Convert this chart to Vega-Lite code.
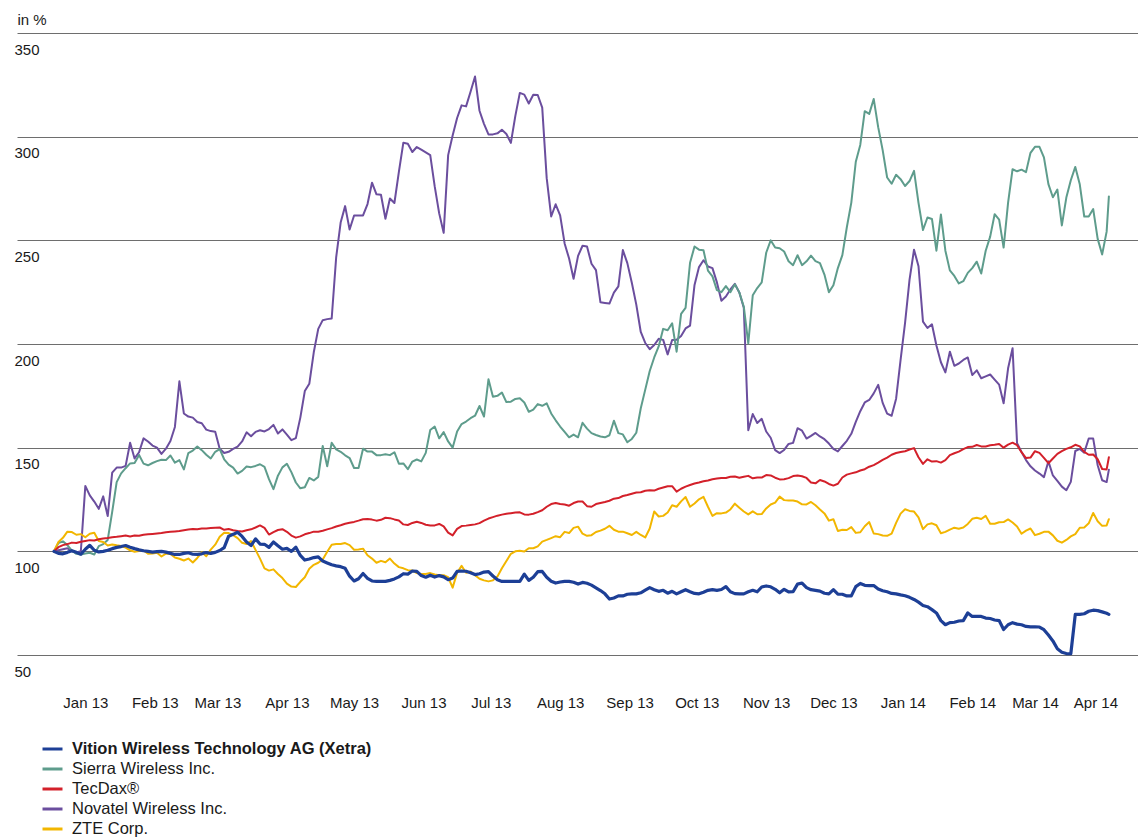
{
"$schema": "https://vega.github.io/schema/vega-lite/v6.json",
"width": 1121,
"height": 622,
"autosize": {"type": "none"},
"padding": {"left": 17, "top": 33, "right": 0, "bottom": 185},
"background": "white",
"config": {"view": {"stroke": null}, "font": "Liberation Sans"},
"data": {"values": [
{"d":"2013-01-01","V":100,"S":100,"T":100,"N":100,"Z":100},
{"d":"2013-01-03","V":99,"S":104,"T":102,"N":100.5,"Z":104.5},
{"d":"2013-01-05","V":98.8,"S":104.8,"T":103,"N":101,"Z":106.5},
{"d":"2013-01-07","V":99.5,"S":103,"T":103.5,"N":101.5,"Z":109.5},
{"d":"2013-01-09","V":100.3,"S":100.3,"T":104.2,"N":100,"Z":109.3},
{"d":"2013-01-11","V":99.5,"S":98.8,"T":104,"N":99.5,"Z":108},
{"d":"2013-01-13","V":98.6,"S":98.5,"T":104.6,"N":100,"Z":108.3},
{"d":"2013-01-15","V":101,"S":99,"T":105,"N":131.5,"Z":106.8},
{"d":"2013-01-17","V":102.9,"S":99.3,"T":105.4,"N":127,"Z":108.5},
{"d":"2013-01-19","V":100.5,"S":98.5,"T":105.2,"N":124,"Z":109},
{"d":"2013-01-21","V":99.7,"S":102.5,"T":105.8,"N":120.5,"Z":105},
{"d":"2013-01-23","V":100,"S":103.5,"T":106.2,"N":126.5,"Z":104.5},
{"d":"2013-01-25","V":100.5,"S":105.5,"T":106.4,"N":117,"Z":102.8},
{"d":"2013-01-27","V":101.3,"S":119,"T":106.8,"N":138,"Z":103.3},
{"d":"2013-01-29","V":101.9,"S":133.4,"T":107,"N":140.4,"Z":102.9},
{"d":"2013-01-31","V":102.3,"S":137.6,"T":107.3,"N":140.4,"Z":102.6},
{"d":"2013-02-02","V":102.8,"S":140.1,"T":107.6,"N":141.2,"Z":101.8},
{"d":"2013-02-04","V":102,"S":142.4,"T":107.2,"N":152.4,"Z":100.5},
{"d":"2013-02-06","V":101.3,"S":142.6,"T":107.6,"N":144.8,"Z":99.8},
{"d":"2013-02-08","V":100.7,"S":146.5,"T":107.5,"N":147.8,"Z":100.1},
{"d":"2013-02-10","V":100.3,"S":142.3,"T":108,"N":154.5,"Z":100.4},
{"d":"2013-02-12","V":100,"S":141.5,"T":108.2,"N":153,"Z":98.8},
{"d":"2013-02-14","V":99.6,"S":142.6,"T":108.4,"N":151,"Z":98.9},
{"d":"2013-02-16","V":99.9,"S":143.5,"T":108.6,"N":150,"Z":99.3},
{"d":"2013-02-18","V":100,"S":144.2,"T":108.8,"N":147,"Z":97.5},
{"d":"2013-02-20","V":99.6,"S":144,"T":109.2,"N":149.5,"Z":98.9},
{"d":"2013-02-22","V":99,"S":146.2,"T":109.4,"N":153.2,"Z":98.7},
{"d":"2013-02-24","V":98.5,"S":142.8,"T":109.6,"N":160,"Z":97},
{"d":"2013-02-26","V":98.5,"S":144,"T":109.8,"N":182,"Z":96.4},
{"d":"2013-02-28","V":99,"S":139.5,"T":110.2,"N":166.5,"Z":95.6},
{"d":"2013-03-02","V":99.3,"S":147.4,"T":110.5,"N":165,"Z":96.5},
{"d":"2013-03-04","V":98.6,"S":148.6,"T":110.8,"N":164.5,"Z":94.6},
{"d":"2013-03-06","V":98.5,"S":150.6,"T":110.6,"N":162.4,"Z":96.8},
{"d":"2013-03-08","V":98.8,"S":148.8,"T":111,"N":161.8,"Z":99.5},
{"d":"2013-03-10","V":99.4,"S":146.6,"T":111,"N":158.7,"Z":97.6},
{"d":"2013-03-12","V":99,"S":144.8,"T":111.2,"N":158,"Z":100.8},
{"d":"2013-03-14","V":99.5,"S":148,"T":111.4,"N":157.7,"Z":103.2},
{"d":"2013-03-16","V":100.4,"S":149.3,"T":111.5,"N":149.5,"Z":107},
{"d":"2013-03-18","V":101.8,"S":144.4,"T":110.4,"N":147.4,"Z":109},
{"d":"2013-03-20","V":107.3,"S":141.8,"T":110.8,"N":148,"Z":108.8},
{"d":"2013-03-22","V":108.2,"S":140.4,"T":110.2,"N":149.4,"Z":107.8},
{"d":"2013-03-24","V":109.2,"S":137.5,"T":109.8,"N":150.5,"Z":106.4},
{"d":"2013-03-26","V":107.2,"S":138.8,"T":109.6,"N":153,"Z":104.1},
{"d":"2013-03-28","V":104.5,"S":140.9,"T":110.2,"N":157.4,"Z":103.5},
{"d":"2013-03-30","V":102.8,"S":140.6,"T":110.6,"N":155.5,"Z":104.9},
{"d":"2013-04-01","V":106,"S":141.2,"T":111.5,"N":157.6,"Z":100.7},
{"d":"2013-04-03","V":103.5,"S":142,"T":112.5,"N":158.4,"Z":96.5},
{"d":"2013-04-05","V":103.4,"S":140.7,"T":111.3,"N":157.8,"Z":91.8},
{"d":"2013-04-07","V":101.9,"S":134.8,"T":108.1,"N":159,"Z":90.7},
{"d":"2013-04-09","V":104.5,"S":130,"T":109.3,"N":161,"Z":91.3},
{"d":"2013-04-11","V":102.7,"S":136.5,"T":110.3,"N":156.8,"Z":89.1},
{"d":"2013-04-13","V":101,"S":140.5,"T":110.7,"N":158.8,"Z":87.1},
{"d":"2013-04-15","V":101.4,"S":142.2,"T":109.4,"N":156.3,"Z":84.4},
{"d":"2013-04-17","V":100,"S":138.2,"T":107.6,"N":153.6,"Z":83},
{"d":"2013-04-19","V":102,"S":133.2,"T":106.6,"N":154.6,"Z":82.8},
{"d":"2013-04-21","V":98,"S":130.4,"T":107.2,"N":164.5,"Z":85.3},
{"d":"2013-04-23","V":95.8,"S":130.9,"T":108.2,"N":177.3,"Z":87.5},
{"d":"2013-04-25","V":96.3,"S":135.4,"T":108.8,"N":180.8,"Z":91.6},
{"d":"2013-04-27","V":97,"S":134.2,"T":109.5,"N":196,"Z":93.5},
{"d":"2013-04-29","V":97.3,"S":135.9,"T":109.4,"N":207.3,"Z":94.5},
{"d":"2013-05-01","V":95.3,"S":150.8,"T":109.9,"N":211.5,"Z":96.1},
{"d":"2013-05-03","V":94.4,"S":141,"T":110.6,"N":212,"Z":99.8},
{"d":"2013-05-05","V":93.5,"S":152.4,"T":111.2,"N":212.3,"Z":103.2},
{"d":"2013-05-07","V":93,"S":149.2,"T":112,"N":241.8,"Z":103.5},
{"d":"2013-05-09","V":92.6,"S":148,"T":112.6,"N":258.6,"Z":103.5},
{"d":"2013-05-11","V":91.8,"S":146.3,"T":113.3,"N":266.5,"Z":104},
{"d":"2013-05-13","V":88,"S":145,"T":113.8,"N":255.2,"Z":103},
{"d":"2013-05-15","V":85.7,"S":140.2,"T":114.2,"N":262,"Z":100.8},
{"d":"2013-05-17","V":86.8,"S":140.2,"T":114.8,"N":262,"Z":100.9},
{"d":"2013-05-19","V":89.3,"S":149.5,"T":115.5,"N":262,"Z":101.3},
{"d":"2013-05-21","V":87,"S":148.1,"T":115.6,"N":267.5,"Z":98.1},
{"d":"2013-05-23","V":85.7,"S":148.1,"T":115.3,"N":277.8,"Z":96.5},
{"d":"2013-05-25","V":85.5,"S":146.4,"T":114.8,"N":272.2,"Z":94.5},
{"d":"2013-05-27","V":85.5,"S":146.4,"T":115.2,"N":272,"Z":95.4},
{"d":"2013-05-29","V":85.5,"S":146.8,"T":116.2,"N":260.4,"Z":94.7},
{"d":"2013-05-31","V":86,"S":146.4,"T":116,"N":270.2,"Z":96.5},
{"d":"2013-06-02","V":86.7,"S":147.8,"T":115.4,"N":268,"Z":94.1},
{"d":"2013-06-04","V":87.7,"S":142.3,"T":114.9,"N":283,"Z":92.4},
{"d":"2013-06-06","V":89.2,"S":142.4,"T":113,"N":297.1,"Z":91.8},
{"d":"2013-06-08","V":89,"S":139.6,"T":112.7,"N":296.6,"Z":90.9},
{"d":"2013-06-10","V":90.5,"S":143.3,"T":113.7,"N":292.6,"Z":90.8},
{"d":"2013-06-12","V":90.3,"S":144.3,"T":114.3,"N":295,"Z":89.5},
{"d":"2013-06-14","V":88.3,"S":143.4,"T":113.7,"N":293.7,"Z":89.1},
{"d":"2013-06-16","V":87.5,"S":147.5,"T":112.8,"N":292.4,"Z":89.1},
{"d":"2013-06-18","V":88.5,"S":158.5,"T":112.5,"N":291.1,"Z":89.5},
{"d":"2013-06-20","V":87.6,"S":160.2,"T":112.5,"N":276,"Z":88.8},
{"d":"2013-06-22","V":88.3,"S":154.5,"T":113.2,"N":263,"Z":88.5},
{"d":"2013-06-24","V":87.7,"S":157.5,"T":112,"N":253.6,"Z":88.5},
{"d":"2013-06-26","V":86.3,"S":153,"T":109,"N":291.1,"Z":87.5},
{"d":"2013-06-28","V":87.1,"S":150,"T":107.7,"N":300.6,"Z":82.5},
{"d":"2013-06-30","V":90.3,"S":157.8,"T":110.8,"N":309,"Z":89.7},
{"d":"2013-07-02","V":90.5,"S":161.4,"T":112.2,"N":315.1,"Z":93},
{"d":"2013-07-04","V":90.4,"S":162.6,"T":112.4,"N":314.6,"Z":89.7},
{"d":"2013-07-06","V":89.7,"S":164.2,"T":112.7,"N":321.7,"Z":90.3},
{"d":"2013-07-08","V":88.8,"S":165.4,"T":113,"N":329,"Z":88.5},
{"d":"2013-07-10","V":89.2,"S":170.1,"T":113.6,"N":312.5,"Z":86.8},
{"d":"2013-07-12","V":90,"S":165,"T":114.8,"N":306.2,"Z":86},
{"d":"2013-07-14","V":90.2,"S":183,"T":115.8,"N":301.1,"Z":85.5},
{"d":"2013-07-16","V":88.1,"S":174.6,"T":116.5,"N":301.1,"Z":86},
{"d":"2013-07-18","V":86.3,"S":175,"T":117.2,"N":301.6,"Z":87.9},
{"d":"2013-07-20","V":85.5,"S":176.6,"T":117.7,"N":303.3,"Z":91.8},
{"d":"2013-07-22","V":85.5,"S":172,"T":118.1,"N":301.3,"Z":95.3},
{"d":"2013-07-24","V":85.5,"S":172.2,"T":118.4,"N":297,"Z":98.8},
{"d":"2013-07-26","V":85.5,"S":173.5,"T":118.7,"N":310,"Z":100},
{"d":"2013-07-28","V":85.5,"S":173.8,"T":118.8,"N":321.1,"Z":100.3},
{"d":"2013-07-30","V":89,"S":171.8,"T":117.8,"N":320.3,"Z":99.9},
{"d":"2013-08-01","V":86,"S":167.3,"T":117.7,"N":316,"Z":101.5},
{"d":"2013-08-03","V":87.5,"S":168.4,"T":118.1,"N":320.2,"Z":101.5},
{"d":"2013-08-05","V":90.2,"S":171,"T":118.9,"N":320.1,"Z":102.4},
{"d":"2013-08-07","V":90.3,"S":170.2,"T":119.8,"N":314,"Z":104.7},
{"d":"2013-08-09","V":87.5,"S":171.4,"T":121.5,"N":280,"Z":105.5},
{"d":"2013-08-11","V":85.6,"S":166.5,"T":122.8,"N":261.5,"Z":106.4},
{"d":"2013-08-13","V":84.7,"S":163.2,"T":123.3,"N":267.4,"Z":107.3},
{"d":"2013-08-15","V":85.2,"S":160.2,"T":122.8,"N":262,"Z":106.8},
{"d":"2013-08-17","V":85.5,"S":157.6,"T":122.6,"N":248.5,"Z":109.4},
{"d":"2013-08-19","V":85.5,"S":155,"T":122,"N":241.2,"Z":108.8},
{"d":"2013-08-21","V":85.1,"S":156.3,"T":123.3,"N":231.5,"Z":111.3},
{"d":"2013-08-23","V":84.2,"S":155,"T":124,"N":242.5,"Z":111.9},
{"d":"2013-08-25","V":85,"S":162,"T":124,"N":247.4,"Z":108.5},
{"d":"2013-08-27","V":84.6,"S":159.2,"T":121.8,"N":247,"Z":107.5},
{"d":"2013-08-29","V":83.7,"S":157,"T":121.5,"N":238.7,"Z":107.8},
{"d":"2013-08-31","V":82.4,"S":156.1,"T":122.8,"N":235.6,"Z":109.3},
{"d":"2013-09-02","V":81.1,"S":155.4,"T":123.3,"N":220.1,"Z":110},
{"d":"2013-09-04","V":79.5,"S":155,"T":123.8,"N":219.8,"Z":110.9},
{"d":"2013-09-06","V":77,"S":156,"T":124.4,"N":219.5,"Z":112.3},
{"d":"2013-09-08","V":77.5,"S":163,"T":125.4,"N":224.8,"Z":110.4},
{"d":"2013-09-10","V":78.5,"S":157,"T":125.7,"N":227.8,"Z":109.5},
{"d":"2013-09-12","V":78.5,"S":156.4,"T":126.7,"N":245.3,"Z":109.5},
{"d":"2013-09-14","V":79.3,"S":152.6,"T":127.2,"N":239,"Z":108.7},
{"d":"2013-09-16","V":79.5,"S":154.2,"T":127.8,"N":229.5,"Z":107.9},
{"d":"2013-09-18","V":79.5,"S":157.2,"T":128.4,"N":219,"Z":109.4},
{"d":"2013-09-20","V":80,"S":169,"T":128.5,"N":205.8,"Z":107.9},
{"d":"2013-09-22","V":81.3,"S":178,"T":129.2,"N":200.5,"Z":106.7},
{"d":"2013-09-24","V":82.5,"S":187,"T":129.5,"N":197.5,"Z":111},
{"d":"2013-09-26","V":81.5,"S":193.5,"T":129.3,"N":199.5,"Z":119.2},
{"d":"2013-09-28","V":80.7,"S":198.8,"T":130.2,"N":202.5,"Z":116.8},
{"d":"2013-09-30","V":81.2,"S":207.3,"T":130.8,"N":202,"Z":117.1},
{"d":"2013-10-02","V":79.8,"S":206.6,"T":131.4,"N":195,"Z":118.7},
{"d":"2013-10-04","V":80.7,"S":210,"T":131.4,"N":201.9,"Z":122.2},
{"d":"2013-10-06","V":79.5,"S":196.3,"T":128.8,"N":202,"Z":121.5},
{"d":"2013-10-08","V":80.5,"S":214.5,"T":130.2,"N":203.9,"Z":124.1},
{"d":"2013-10-10","V":81.5,"S":217.4,"T":131.2,"N":207.5,"Z":126.2},
{"d":"2013-10-12","V":80.5,"S":239.2,"T":132,"N":208.9,"Z":121.5},
{"d":"2013-10-14","V":79.7,"S":247,"T":132.7,"N":228.5,"Z":123.1},
{"d":"2013-10-16","V":79.5,"S":245.5,"T":133.2,"N":237.1,"Z":125.1},
{"d":"2013-10-18","V":80.3,"S":245.2,"T":133.8,"N":240.4,"Z":126.3},
{"d":"2013-10-20","V":81.2,"S":235.4,"T":134.2,"N":237.4,"Z":121.5},
{"d":"2013-10-22","V":81.5,"S":232.6,"T":134.8,"N":236.6,"Z":117.1},
{"d":"2013-10-24","V":81.2,"S":226,"T":135.1,"N":229.7,"Z":118.4},
{"d":"2013-10-26","V":81.6,"S":225,"T":135.4,"N":220.9,"Z":118.3},
{"d":"2013-10-28","V":83,"S":227.9,"T":135.4,"N":222.9,"Z":118.7},
{"d":"2013-10-30","V":80.5,"S":225,"T":136,"N":226.3,"Z":120.2},
{"d":"2013-11-01","V":79.6,"S":228.8,"T":136.1,"N":229,"Z":123},
{"d":"2013-11-03","V":79.5,"S":224.9,"T":135.5,"N":224.8,"Z":121},
{"d":"2013-11-05","V":79.5,"S":218,"T":136,"N":217.5,"Z":119.2},
{"d":"2013-11-07","V":80.5,"S":200.3,"T":136.4,"N":158.4,"Z":117.8},
{"d":"2013-11-09","V":81.2,"S":223.5,"T":135.2,"N":166.2,"Z":119.3},
{"d":"2013-11-11","V":80.5,"S":227,"T":135.6,"N":161.9,"Z":117.9},
{"d":"2013-11-13","V":82.8,"S":229.7,"T":135.6,"N":163.9,"Z":118},
{"d":"2013-11-15","V":83.3,"S":244,"T":136.8,"N":157.8,"Z":120.7},
{"d":"2013-11-17","V":82.9,"S":250,"T":136.6,"N":154.8,"Z":122.6},
{"d":"2013-11-19","V":81.7,"S":246.5,"T":135.5,"N":148.8,"Z":123.5},
{"d":"2013-11-21","V":80,"S":246.2,"T":134.7,"N":147.4,"Z":126.4},
{"d":"2013-11-23","V":81.7,"S":244.6,"T":134.8,"N":148.9,"Z":124.7},
{"d":"2013-11-25","V":80.4,"S":239.9,"T":135.3,"N":151.8,"Z":124.5},
{"d":"2013-11-27","V":80.5,"S":238,"T":136.3,"N":152.3,"Z":124.5},
{"d":"2013-11-29","V":84.2,"S":242.8,"T":136.6,"N":159.4,"Z":124},
{"d":"2013-12-01","V":84.7,"S":238,"T":136.2,"N":158.2,"Z":122.7},
{"d":"2013-12-03","V":82.5,"S":239.9,"T":135.4,"N":154.4,"Z":122.6},
{"d":"2013-12-05","V":81.5,"S":242.6,"T":133.2,"N":155.7,"Z":123.8},
{"d":"2013-12-07","V":81.2,"S":240,"T":132.8,"N":157.1,"Z":122.2},
{"d":"2013-12-09","V":80.8,"S":239,"T":134.4,"N":155.4,"Z":120.2},
{"d":"2013-12-11","V":79.8,"S":233.5,"T":133.7,"N":154.1,"Z":118.3},
{"d":"2013-12-13","V":79.5,"S":225,"T":132.5,"N":152,"Z":114.8},
{"d":"2013-12-15","V":81.5,"S":228.3,"T":131.7,"N":149.4,"Z":115.5},
{"d":"2013-12-17","V":79.4,"S":236.6,"T":132.6,"N":148.2,"Z":109.8},
{"d":"2013-12-19","V":79.3,"S":242.9,"T":135.6,"N":150.8,"Z":110.4},
{"d":"2013-12-21","V":78.5,"S":256.3,"T":137,"N":153.3,"Z":110.3},
{"d":"2013-12-23","V":78.5,"S":268.2,"T":137.6,"N":156.7,"Z":111.7},
{"d":"2013-12-25","V":83,"S":287.9,"T":138.1,"N":162.4,"Z":108.9},
{"d":"2013-12-27","V":84.5,"S":296,"T":139,"N":167.6,"Z":109.2},
{"d":"2013-12-29","V":83.6,"S":312.3,"T":139.6,"N":171.8,"Z":112.1},
{"d":"2013-12-31","V":83.5,"S":311,"T":140.8,"N":173,"Z":114.1},
{"d":"2014-01-02","V":83.5,"S":318.2,"T":141.6,"N":176.2,"Z":108.6},
{"d":"2014-01-04","V":81.8,"S":304.6,"T":142.8,"N":180.3,"Z":108.3},
{"d":"2014-01-06","V":81,"S":293.5,"T":144.1,"N":171.6,"Z":107.6},
{"d":"2014-01-08","V":80.5,"S":280.3,"T":145.2,"N":166.4,"Z":107.5},
{"d":"2014-01-10","V":79.7,"S":277.3,"T":146.6,"N":165.4,"Z":108.5},
{"d":"2014-01-12","V":79.5,"S":281.6,"T":147.4,"N":173.6,"Z":113.7},
{"d":"2014-01-14","V":79,"S":279.5,"T":147.9,"N":192.3,"Z":118.2},
{"d":"2014-01-16","V":78.6,"S":276.2,"T":148.3,"N":210.2,"Z":120.3},
{"d":"2014-01-18","V":77.8,"S":278.6,"T":149.1,"N":231,"Z":119.5},
{"d":"2014-01-20","V":76.8,"S":283.5,"T":149.8,"N":245.5,"Z":119.2},
{"d":"2014-01-22","V":75.5,"S":268.1,"T":145.4,"N":237.5,"Z":116.4},
{"d":"2014-01-24","V":73.9,"S":255,"T":142.2,"N":210.8,"Z":110.7},
{"d":"2014-01-26","V":73.3,"S":261,"T":144.4,"N":207.7,"Z":113},
{"d":"2014-01-28","V":71.9,"S":260.3,"T":143.3,"N":209.5,"Z":113.5},
{"d":"2014-01-30","V":70.3,"S":245,"T":143.5,"N":199.3,"Z":112.6},
{"d":"2014-02-01","V":66.6,"S":262.5,"T":142.8,"N":191.2,"Z":108.7},
{"d":"2014-02-03","V":64.6,"S":245,"T":144,"N":186.3,"Z":109.4},
{"d":"2014-02-05","V":65.6,"S":235.5,"T":146.4,"N":196.3,"Z":110.5},
{"d":"2014-02-07","V":65.8,"S":232.8,"T":147.3,"N":189.5,"Z":111.4},
{"d":"2014-02-09","V":66.4,"S":229.2,"T":148.1,"N":190.6,"Z":110.9},
{"d":"2014-02-11","V":66.6,"S":230.3,"T":149.3,"N":192.3,"Z":111.5},
{"d":"2014-02-13","V":70.3,"S":234.3,"T":150.3,"N":193.5,"Z":113.2},
{"d":"2014-02-15","V":68.6,"S":236.6,"T":150.4,"N":185,"Z":115.7},
{"d":"2014-02-17","V":68.6,"S":239.7,"T":151.3,"N":187.3,"Z":116.2},
{"d":"2014-02-19","V":68.6,"S":234,"T":150.6,"N":183.5,"Z":115.6},
{"d":"2014-02-21","V":67.8,"S":245,"T":150.6,"N":184.4,"Z":117.1},
{"d":"2014-02-23","V":67.6,"S":251.8,"T":151.2,"N":185.3,"Z":113.3},
{"d":"2014-02-25","V":66.9,"S":262.6,"T":151.4,"N":182.8,"Z":113.3},
{"d":"2014-02-27","V":66.6,"S":260,"T":151.8,"N":180.4,"Z":114},
{"d":"2014-03-01","V":62.3,"S":246.5,"T":150,"N":171.4,"Z":114.1},
{"d":"2014-03-03","V":64.6,"S":268.2,"T":151.5,"N":188.3,"Z":115.4},
{"d":"2014-03-05","V":65.6,"S":284.3,"T":152.4,"N":198,"Z":113.9},
{"d":"2014-03-07","V":64.9,"S":283.3,"T":151.2,"N":152.2,"Z":112},
{"d":"2014-03-09","V":64.6,"S":284.1,"T":147.8,"N":147.9,"Z":108.5},
{"d":"2014-03-11","V":63.8,"S":282.9,"T":145,"N":144,"Z":110},
{"d":"2014-03-13","V":63.6,"S":292.2,"T":145.2,"N":141,"Z":111},
{"d":"2014-03-15","V":63.6,"S":295.1,"T":148.3,"N":139,"Z":107.8},
{"d":"2014-03-17","V":63.5,"S":295.1,"T":147.5,"N":137.5,"Z":108.5},
{"d":"2014-03-19","V":62.2,"S":290,"T":145.1,"N":135.8,"Z":109.4},
{"d":"2014-03-21","V":59.6,"S":277.1,"T":142.5,"N":143.4,"Z":109.5},
{"d":"2014-03-23","V":56.8,"S":270.8,"T":144.8,"N":136.6,"Z":107.7},
{"d":"2014-03-25","V":53,"S":274.5,"T":147,"N":134,"Z":105.1},
{"d":"2014-03-27","V":51.3,"S":257.2,"T":148.3,"N":131.2,"Z":104.2},
{"d":"2014-03-29","V":50.7,"S":270.6,"T":149.4,"N":129.5,"Z":105.5},
{"d":"2014-03-31","V":50.6,"S":279,"T":150.2,"N":133.5,"Z":107.2},
{"d":"2014-04-02","V":69.6,"S":285.4,"T":151.4,"N":148.4,"Z":108.3},
{"d":"2014-04-04","V":69.6,"S":277,"T":150.6,"N":149.4,"Z":111.4},
{"d":"2014-04-06","V":69.9,"S":261.5,"T":148,"N":147.6,"Z":111.5},
{"d":"2014-04-08","V":71.1,"S":261.5,"T":146.6,"N":154.4,"Z":113.5},
{"d":"2014-04-10","V":71.6,"S":265.1,"T":146.7,"N":154.4,"Z":118.5},
{"d":"2014-04-12","V":71.4,"S":250.7,"T":144.4,"N":141.5,"Z":114.5},
{"d":"2014-04-14","V":70.8,"S":243.2,"T":139.7,"N":134.3,"Z":112.3},
{"d":"2014-04-16","V":70.1,"S":254.2,"T":139.5,"N":133.4,"Z":112.5},
{"d":"2014-04-17","V":69.6,"S":271.2,"T":145.4,"N":139.4,"Z":115.5}
]},
"transform": [{"fold": ["N", "S", "Z", "T", "V"], "as": ["series", "value"]}],
"mark": {"type": "line", "strokeJoin": "round", "strokeCap": "round"},
"encoding": {
  "x": {
    "field": "d", "type": "temporal",
    "scale": {"type": "utc", "domain": [{"year": 2012, "month": 12, "date": 15, "hours": 12, "utc": true}, {"year": 2014, "month": 4, "date": 30, "utc": true}]},
    "axis": {
      "values": [
        {"year": 2013, "month": 1, "date": 15, "utc": true},
        {"year": 2013, "month": 2, "date": 15, "utc": true},
        {"year": 2013, "month": 3, "date": 15, "utc": true},
        {"year": 2013, "month": 4, "date": 15, "utc": true},
        {"year": 2013, "month": 5, "date": 15, "utc": true},
        {"year": 2013, "month": 6, "date": 15, "utc": true},
        {"year": 2013, "month": 7, "date": 15, "utc": true},
        {"year": 2013, "month": 8, "date": 15, "utc": true},
        {"year": 2013, "month": 9, "date": 15, "utc": true},
        {"year": 2013, "month": 10, "date": 15, "utc": true},
        {"year": 2013, "month": 11, "date": 15, "utc": true},
        {"year": 2013, "month": 12, "date": 15, "utc": true},
        {"year": 2014, "month": 1, "date": 15, "utc": true},
        {"year": 2014, "month": 2, "date": 15, "utc": true},
        {"year": 2014, "month": 3, "date": 15, "utc": true},
        {"year": 2014, "month": 4, "date": 11, "utc": true}
      ],
      "format": "%b %y",
      "grid": false, "domain": false, "ticks": false,
      "labelPadding": 40, "labelBaseline": "top",
      "labelFontSize": 15, "labelColor": "#1a1a1a",
      "labelOverlap": false, "labelFlush": false,
      "title": null
    }
  },
  "y": {
    "field": "value", "type": "quantitative",
    "scale": {"domain": [50, 350], "nice": false, "zero": false},
    "axis": {
      "values": [50, 100, 150, 200, 250, 300, 350],
      "grid": true, "gridColor": "#6e6e6e", "gridWidth": 1,
      "domain": false, "ticks": false,
      "labelAlign": "left", "labelBaseline": "top",
      "labelPadding": 3, "labelOffset": 9,
      "labelFontSize": 15, "labelColor": "#1a1a1a",
      "labelOverlap": false, "labelFlush": false,
      "title": "in %", "titleAngle": 0, "titleAlign": "left", "titleBaseline": "alphabetic",
      "titleX": 0, "titleY": -9, "titleFontSize": 15, "titleFontWeight": "normal", "titleColor": "#1a1a1a"
    }
  },
  "color": {
    "field": "series", "type": "nominal",
    "scale": {"domain": ["V", "S", "T", "N", "Z"], "range": ["#1d3f96", "#5e9c8c", "#d3202a", "#6b4e9e", "#f2b600"]},
    "legend": {
      "orient": "none", "legendX": 24, "legendY": 704.5, "direction": "vertical",
      "title": null, "symbolType": "stroke", "symbolStrokeWidth": 3, "symbolSize": 400,
      "labelFontSize": 16.5, "labelColor": "#1a1a1a", "labelOffset": 8, "rowPadding": 0, "padding": 0, "labelLimit": 0,
      "labelExpr": "{'V':'Vition Wireless Technology AG (Xetra)','S':'Sierra Wireless Inc.','T':'TecDax®','N':'Novatel Wireless Inc.','Z':'ZTE Corp.'}[datum.label]",
      "encode": {"labels": {"update": {"fontWeight": {"signal": "datum.value === 'V' ? 'bold' : 'normal'"}}}}
    }
  },
  "strokeWidth": {"condition": {"test": "datum.series === 'V'", "value": 3.2}, "value": 2}
}
}
